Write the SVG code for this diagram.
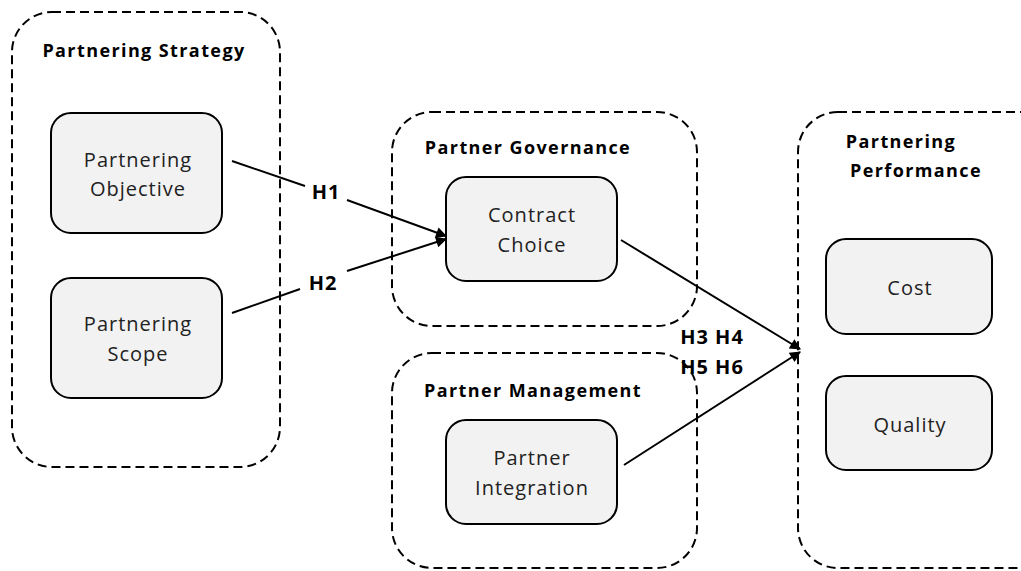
<svg xmlns="http://www.w3.org/2000/svg" width="1021" height="571" viewBox="0 0 1021 571">
<defs>
<marker id="ah" viewBox="0 0 10 10" refX="9" refY="5" markerWidth="13" markerHeight="11" markerUnits="userSpaceOnUse" orient="auto">
<path d="M0,0 L10,5 L0,10 z" fill="#000"/>
</marker>
<style>
.grp{fill:none;stroke:#000;stroke-width:2;stroke-dasharray:9 5}
.box{fill:#f2f2f2;stroke:#000;stroke-width:2}
.t{font-family:"Open Sans","Liberation Sans",sans-serif;font-size:20px;letter-spacing:1px;fill:#222;text-anchor:middle}
.h{font-family:"Open Sans","Liberation Sans",sans-serif;font-size:18px;letter-spacing:1.4px;font-weight:bold;fill:#000;text-anchor:middle}
.hl{font-size:20px;letter-spacing:1px}
.c{stroke:#000;stroke-width:2;fill:none}
</style>
</defs>
<rect width="1021" height="571" fill="#fff"/>
<g id="strategy">
<rect class="grp" x="12" y="12" width="268" height="455" rx="40"/>
<text class="h" x="144" y="57">Partnering Strategy</text>
</g>
<g id="objective">
<rect class="box" x="51" y="113" width="171" height="120" rx="20"/>
<text class="t" x="138" y="167">Partnering</text>
<text class="t" x="138" y="196">Objective</text>
</g>
<g id="scope">
<rect class="box" x="51" y="278" width="171" height="120" rx="20"/>
<text class="t" x="138" y="331">Partnering</text>
<text class="t" x="138" y="361">Scope</text>
</g>
<g id="governance">
<rect class="grp" x="392" y="112" width="305" height="214" rx="40"/>
<text class="h" x="528" y="154">Partner Governance</text>
</g>
<g id="contract">
<rect class="box" x="446" y="177" width="171" height="104" rx="20"/>
<text class="t" x="532" y="222">Contract</text>
<text class="t" x="532" y="252">Choice</text>
</g>
<g id="management">
<rect class="grp" x="392" y="353" width="305" height="215" rx="40"/>
<text class="h" x="533" y="397">Partner Management</text>
</g>
<g id="integration">
<rect class="box" x="446" y="420" width="171" height="104" rx="20"/>
<text class="t" x="532" y="465">Partner</text>
<text class="t" x="532" y="495">Integration</text>
</g>
<g id="performance">
<rect class="grp" x="798" y="112" width="262" height="456" rx="40"/>
<text class="h" x="901" y="148">Partnering</text>
<text class="h" x="916" y="177">Performance</text>
</g>
<g id="cost">
<rect class="box" x="826" y="239" width="166" height="95" rx="20"/>
<text class="t" x="910" y="295">Cost</text>
</g>
<g id="quality">
<rect class="box" x="826" y="376" width="166" height="94" rx="20"/>
<text class="t" x="910" y="432">Quality</text>
</g>
<g id="connectors">
<path class="c" d="M232,161 L305,186"/>
<path class="c" d="M347,200 L446,236" marker-end="url(#ah)"/>
<path class="c" d="M232,313 L300,289"/>
<path class="c" d="M347,271 L446,239" marker-end="url(#ah)"/>
<path class="c" d="M621,240 L800,349" marker-end="url(#ah)"/>
<path class="c" d="M624,465 L800,352" marker-end="url(#ah)"/>
<text class="h hl" x="326" y="199">H1</text>
<text class="h hl" x="323" y="290">H2</text>
<text class="h hl" x="712" y="344">H3 H4</text>
<text class="h hl" x="712" y="374">H5 H6</text>
</g>
</svg>
